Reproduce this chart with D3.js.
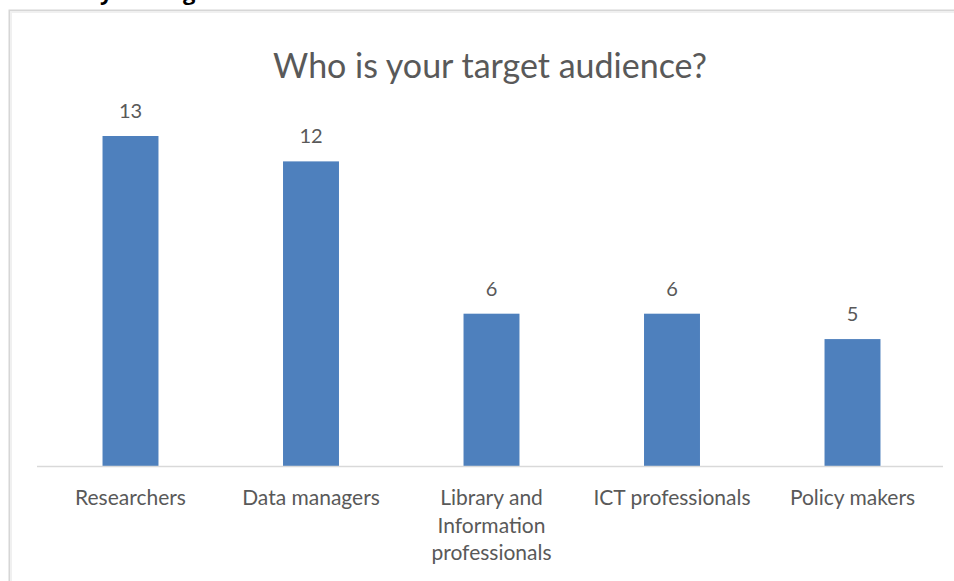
<!DOCTYPE html>
<html>
<head>
<meta charset="utf-8">
<script src="https://cdn.jsdelivr.net/npm/d3@7/dist/d3.min.js"></script>
<style>
  html, body { margin: 0; padding: 0; background: #fff; }
  svg { display: block; }
</style>
</head>
<body>
<svg id="chart" width="954" height="581"></svg>
<script>
const categories = ["Researchers", "Data managers", "Library and Information professionals", "ICT professionals", "Policy makers"];
const values = [13, 12, 6, 6, 5];
const chartTitle = "Who is your target audience?";
const pageHeading = "Survey findings";

const W = 954, H = 581;
const svg = d3.select("#chart");
const font = "Lato, 'Open Sans', sans-serif";
const textColor = "#595959";

// cropped page heading above the chart frame (only descenders visible, as in the reference)
svg.append("text")
  .attr("x", 38).attr("y", 0)
  .attr("font-family", "'Open Sans', sans-serif")
  .attr("font-weight", "bold")
  .attr("font-size", 22)
  .attr("fill", "#000")
  .text(pageHeading);

// chart frame
svg.append("rect")
  .attr("x", 9.5).attr("y", 10.5)
  .attr("width", W + 20).attr("height", H + 20)
  .attr("fill", "#fff")
  .attr("stroke", "#d6d6d6")
  .attr("stroke-width", 2);
svg.append("rect")
  .attr("x", 11).attr("y", 12)
  .attr("width", W).attr("height", H)
  .attr("fill", "none")
  .attr("stroke", "#f0f0f0")
  .attr("stroke-width", 2);

const x = d3.scaleBand()
  .domain(categories)
  .range([40.25, 942.75])
  .paddingInner(0.69)
  .paddingOuter(0.345);

const baseline = 466;
const y = d3.scaleLinear()
  .domain([0, 13])
  .range([baseline, 136]);

// title
svg.append("text")
  .attr("x", 490).attr("y", 78)
  .attr("text-anchor", "middle")
  .attr("font-family", font)
  .attr("font-size", 34)
  .attr("fill", textColor)
  .text(chartTitle);

// bars
svg.append("g").selectAll("rect")
  .data(categories)
  .join("rect")
  .attr("x", d => x(d))
  .attr("width", x.bandwidth())
  .attr("y", (d, i) => y(values[i]))
  .attr("height", (d, i) => y(0) - y(values[i]))
  .attr("fill", "#4e80bd");

// value labels
svg.append("g").selectAll("text")
  .data(categories)
  .join("text")
  .attr("x", d => x(d) + x.bandwidth() / 2)
  .attr("y", (d, i) => y(values[i]) - 18)
  .attr("text-anchor", "middle")
  .attr("font-family", font)
  .attr("font-size", 20)
  .attr("fill", textColor)
  .text((d, i) => values[i]);

// axis
const axis = d3.axisBottom(x).tickSize(0).tickPadding(0);
const gAxis = svg.append("g")
  .attr("transform", `translate(0,${baseline})`)
  .call(axis);
gAxis.select(".domain")
  .attr("d", `M37,0.5H943`)
  .attr("stroke", "#d9d9d9")
  .attr("stroke-width", 1.5);
gAxis.selectAll(".tick text")
  .attr("font-family", font)
  .attr("font-size", 21)
  .attr("fill", textColor)
  .attr("y", 39)
  .attr("dy", 0)
  .call(wrap, 175);

function wrap(sel, width) {
  sel.each(function () {
    const t = d3.select(this);
    const words = t.text().split(/\s+/);
    const yy = +t.attr("y");
    t.text(null);
    let line = [];
    let lineNo = 0;
    let tspan = t.append("tspan").attr("x", 0).attr("y", yy);
    for (const w of words) {
      line.push(w);
      tspan.text(line.join(" "));
      if (tspan.node().getComputedTextLength() > width && line.length > 1) {
        line.pop();
        tspan.text(line.join(" "));
        line = [w];
        lineNo++;
        tspan = t.append("tspan").attr("x", 0).attr("y", yy + lineNo * 27.5).text(w);
      }
    }
  });
}
</script>
</body>
</html>
